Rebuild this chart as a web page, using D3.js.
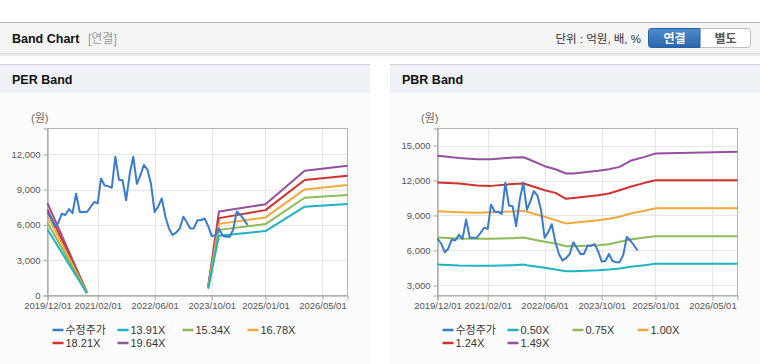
<!DOCTYPE html>
<html><head><meta charset="utf-8">
<script src="https://cdn.jsdelivr.net/npm/d3@7/dist/d3.min.js"></script>
<style>
html,body{margin:0;padding:0;background:#fff;}
svg{display:block;font-family:"Liberation Sans","Noto Sans CJK KR",Arial,sans-serif;}
</style></head><body>
<svg id="c" width="760" height="364"></svg>
<script>
// ---------- DATA ----------
const xTickLabels = ["2019/12/01","2021/02/01","2022/06/01","2023/10/01","2025/01/01","2026/05/01"];
const xDomain = ["2019-12-01","2026-12-01"];

// 수정주가 (monthly, 2019-12 .. 2024-08)
const priceStart = "2019-12-01";
const priceValues = [7030,6600,5850,6150,6950,6850,7350,7000,8650,7100,
  7100,7100,7500,7950,7850,9950,9350,9300,9150,11800,
  9850,9800,8100,10350,11800,9500,10250,11100,10700,9500,
  7100,7550,8250,6700,5700,5150,5350,5700,6700,6250,
  5700,5700,6400,6400,6550,5900,5050,5100,5700,5100,
  5000,5000,5600,7150,6850,6450,6000];

// PER band
const perDates = ["2019-12-01","2020-11-01","2021-01-01","2023-09-01","2023-12-01","2025-01-01","2025-12-01","2026-12-01"];
const per1391 = [5620,195,null,560,5080,5480,7550,7770];
const per1534 = [6200,215,null,620,5580,6070,8310,8540];
const per1678 = [6800,235,null,680,6090,6640,9020,9390];
const per1821 = [7300,255,null,730,6580,7260,9820,10190];
const per1964 = [7850,275,null,790,7140,7750,10610,11040];
const perLabels = ["수정주가","13.91X","15.34X","16.78X","18.21X","19.64X"];
const perTicks = [0,3000,6000,9000,12000];

// PBR band
const pbrDates = ["2019-12-01","2020-06-01","2020-11-01","2021-03-01","2021-09-01","2021-12-01","2022-01-01","2022-06-01","2022-09-01","2022-12-01","2023-02-01","2023-09-01","2023-12-01","2024-03-01","2024-06-01","2024-10-01","2025-01-01","2026-12-01"];
const pbr050 = [4800,4714,4686,4686,4743,4800,4743,4514,4371,4229,4229,4314,4371,4457,4600,4743,4857,4857];
const pbr075 = [7114,7029,7000,7000,7057,7114,7057,6743,6600,6371,6371,6457,6543,6743,6943,7114,7229,7229];
const pbr100 = [9371,9286,9230,9286,9343,9400,9314,8886,8600,8314,8371,8600,8714,8886,9171,9400,9629,9629];
const pbr124 = [11830,11740,11570,11540,11710,11740,11660,11170,10940,10430,10510,10740,10880,11170,11460,11800,12030,12030];
const pbr149 = [14114,13940,13830,13830,13970,14000,13890,13230,12970,12600,12600,12830,12970,13170,13690,14030,14310,14460,14460].slice(0,18);
const pbrLabels = ["수정주가","0.50X","0.75X","1.00X","1.24X","1.49X"];
const pbrTicks = [3000,6000,9000,12000,15000];

const colors = ["#3a7bd0","#1fb3c2","#8dbb55","#f2a93b","#d1312f","#94509f"];

// ---------- DRAW ----------
const svg = d3.select("#c");
const parse = d3.timeParse("%Y-%m-%d");
const fmtTick = d3.timeFormat("%Y/%m/%d");
const defs = svg.append("defs");
const g1 = defs.append("linearGradient").attr("id","btn").attr("x1",0).attr("y1",0).attr("x2",0).attr("y2",1);
g1.append("stop").attr("offset","0%").attr("stop-color","#4d8ccd");
g1.append("stop").attr("offset","100%").attr("stop-color","#2a66ab");
const g2 = defs.append("linearGradient").attr("id","shadow").attr("x1",0).attr("y1",0).attr("x2",0).attr("y2",1);
g2.append("stop").attr("offset","0%").attr("stop-color","#d8d8d8");
g2.append("stop").attr("offset","100%").attr("stop-color","#ffffff");

// top header bar
svg.append("rect").attr("x",0).attr("y",53).attr("width",760).attr("height",4).attr("fill","url(#shadow)");
svg.append("rect").attr("x",0).attr("y",22).attr("width",760).attr("height",31).attr("fill","#f4f4f4");
svg.append("line").attr("x1",0).attr("x2",760).attr("y1",22.5).attr("y2",22.5).attr("stroke","#b9b9b9");
svg.append("text").attr("x",12).attr("y",43).attr("font-size",12.5).attr("font-weight","bold").attr("fill","#111").text("Band Chart");
svg.append("text").attr("x",88).attr("y",43).attr("font-size",12).attr("fill","#999").text("[연결]");
svg.append("text").attr("x",641).attr("y",43).attr("text-anchor","end").attr("font-size",11.5).attr("fill","#333").text("단위 : 억원, 배, %");
svg.append("rect").attr("x",648.5).attr("y",28.5).attr("width",102).attr("height",19).attr("rx",3).attr("fill","#fff").attr("stroke","#bdbdbd");
svg.append("path").attr("d","M651.5,28.5 H700 V47.5 H651.5 Q648.5,47.5 648.5,44.5 V31.5 Q648.5,28.5 651.5,28.5 Z").attr("fill","url(#btn)").attr("stroke","#2a62a4");
svg.append("text").attr("x",674.5).attr("y",42.5).attr("text-anchor","middle").attr("font-size",12).attr("font-weight","bold").attr("fill","#fff").text("연결");
svg.append("text").attr("x",725.5).attr("y",42.5).attr("text-anchor","middle").attr("font-size",12).attr("font-weight","bold").attr("fill","#555").text("별도");

function panel(ox, title, ticks, domain, series, labels){
  const g = svg.append("g").attr("transform",`translate(${ox},0)`);
  g.append("rect").attr("x",0).attr("y",64).attr("width",370).attr("height",300).attr("fill","#fcfcfc");
  g.append("rect").attr("x",0).attr("y",64).attr("width",370).attr("height",29).attr("fill","#eef2f7");
  g.append("line").attr("x1",0).attr("x2",370).attr("y1",64.5).attr("y2",64.5).attr("stroke","#d3d3d3");
  g.append("text").attr("x",12).attr("y",84).attr("font-size",12.5).attr("font-weight","bold").attr("fill","#111").text(title);

  const L=47.5,R=347.5,T=128.5,B=295.5;
  const x = d3.scaleTime().domain(xDomain.map(parse)).range([L,R]);
  const y = d3.scaleLinear().domain(domain).range([B,T]);
  const xt = xTickLabels.map(s=>d3.timeParse("%Y/%m/%d")(s));

  g.append("rect").attr("x",L).attr("y",T).attr("width",R-L).attr("height",B-T).attr("fill","#fff");
  // grid
  g.append("g").selectAll("line").data(ticks).join("line")
    .attr("x1",L).attr("x2",R).attr("y1",d=>Math.round(y(d))+0.5).attr("y2",d=>Math.round(y(d))+0.5).attr("stroke","#e6e6e6");
  g.append("g").selectAll("line").data(xt).join("line")
    .attr("x1",d=>Math.round(x(d))+0.5).attr("x2",d=>Math.round(x(d))+0.5).attr("y1",T).attr("y2",B).attr("stroke","#e6e6e6");
  g.append("rect").attr("x",L).attr("y",T).attr("width",R-L).attr("height",B-T).attr("fill","none").attr("stroke","#b3b3b3");

  // axes
  const ya = g.append("g").attr("transform",`translate(${L},0)`)
    .call(d3.axisLeft(y).tickValues(ticks).tickSize(4).tickPadding(3).tickFormat(d3.format(",")));
  ya.select(".domain").attr("stroke","#a8a8a8");
  ya.selectAll(".tick line").attr("stroke","#a8a8a8");
  ya.selectAll("text").attr("font-size",9.5).attr("fill","#555").attr("font-family","inherit");
  const xa = g.append("g").attr("transform",`translate(0,${B})`)
    .call(d3.axisBottom(x).tickValues(xt).tickSize(5).tickPadding(2).tickFormat(fmtTick));
  xa.select(".domain").attr("stroke","#a8a8a8");
  xa.selectAll(".tick line").attr("stroke","#a8a8a8");
  xa.selectAll("text").attr("font-size",9.5).attr("fill","#555").attr("font-family","inherit");

  g.append("text").attr("x",31).attr("y",122).attr("font-size",11).attr("fill","#666").text("(원)");

  // lines
  const line = d3.line().defined(d=>d[1]!=null).x(d=>x(d[0])).y(d=>y(d[1]));
  const clip = "clip"+ox;
  defs.append("clipPath").attr("id",clip).append("rect").attr("x",L+ox).attr("y",T).attr("width",R-L).attr("height",B-T+2);
  const lg = g.append("g");
  series.slice().reverse().forEach((s,i)=>{
    const idx = series.length-1-i;
    lg.append("path").datum(s).attr("d",line).attr("fill","none")
      .attr("stroke",colors[idx]).attr("stroke-width",2).attr("stroke-linejoin","round");
  });
  // price drawn first in legend order but rendered on top? keep price under bands as in reference
  // legend
  labels.forEach((lab,i)=>{
    const cx = 52.5 + (i%4)*65, cy = i<4?330:343;
    g.append("line").attr("x1",cx).attr("x2",cx+11).attr("y1",cy).attr("y2",cy).attr("stroke",colors[i]).attr("stroke-width",2.5);
    g.append("text").attr("x",cx+13).attr("y",cy+4).attr("font-size",11).attr("fill","#333").text(lab);
  });
}

const pDates = d3.timeMonth.range(parse(priceStart), d3.timeMonth.offset(parse(priceStart), priceValues.length));
const priceSeries = pDates.map((d,i)=>[d,priceValues[i]]);
const mk = (dates, vals) => dates.map((d,i)=>[parse(d), vals[i]]);

panel(0, "PER Band", perTicks, [0,14200],
  [priceSeries, mk(perDates,per1391), mk(perDates,per1534), mk(perDates,per1678), mk(perDates,per1821), mk(perDates,per1964)], perLabels);
panel(390, "PBR Band", pbrTicks, [2140,16460],
  [priceSeries, mk(pbrDates,pbr050), mk(pbrDates,pbr075), mk(pbrDates,pbr100), mk(pbrDates,pbr124), mk(pbrDates,pbr149)], pbrLabels);
</script>
</body></html>
